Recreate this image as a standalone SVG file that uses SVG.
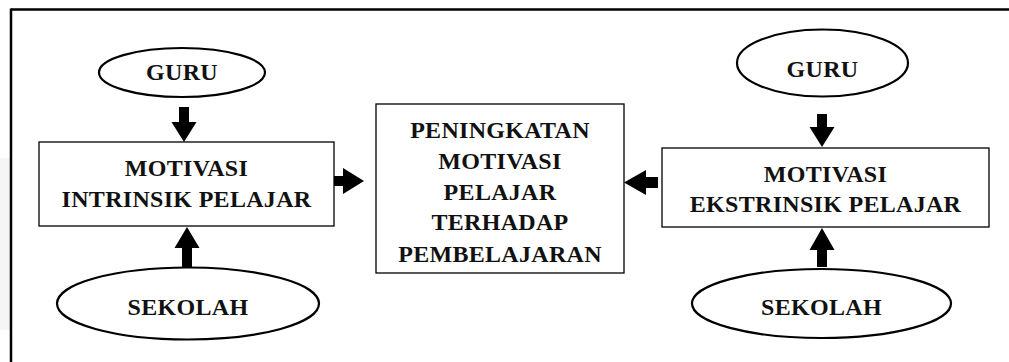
<svg xmlns="http://www.w3.org/2000/svg" width="1009" height="362" viewBox="0 0 1009 362">
<style>
.shape{fill:#fff;stroke:#000;stroke-width:1.3}
.oval{fill:#fff;stroke:#000;stroke-width:2.2}
.t{font-family:"Liberation Serif","Times New Roman",serif;font-weight:bold;font-size:24px;letter-spacing:0.3px;fill:#111;text-anchor:middle}
.arr{fill:#000}
</style>
<rect x="0" y="0" width="1009" height="362" fill="#fff"/>
<rect x="0" y="158" width="11" height="172" fill="#f5f5f5"/>
<g id="frame">
<line x1="11" y1="9.5" x2="1009" y2="9.5" stroke="#000" stroke-width="2.5"/>
<line x1="11" y1="8.5" x2="11" y2="362" stroke="#000" stroke-width="2.5"/>
</g>
<g id="guru-left"><ellipse class="oval" cx="182" cy="72.5" rx="83" ry="24.5"/><text class="t" x="182" y="80">GURU</text></g>
<g id="intrinsik"><rect class="shape" x="39" y="142" width="295" height="84"/><text class="t" x="186.5" y="176">MOTIVASI</text><text class="t" x="186.5" y="207">INTRINSIK PELAJAR</text></g>
<g id="sekolah-left"><ellipse class="oval" cx="188" cy="303.5" rx="131" ry="36" /><text class="t" x="188" y="315">SEKOLAH</text></g>
<g id="peningkatan"><rect class="shape" x="376" y="104" width="248" height="169"/>
<text class="t" x="500" y="138">PENINGKATAN</text><text class="t" x="500" y="169">MOTIVASI</text><text class="t" x="500" y="200">PELAJAR</text><text class="t" x="500" y="230">TERHADAP</text><text class="t" x="500" y="262">PEMBELAJARAN</text></g>
<g id="guru-right"><ellipse class="oval" cx="822.5" cy="63" rx="85.5" ry="33.5"/><text class="t" x="822.5" y="77">GURU</text></g>
<g id="ekstrinsik"><rect class="shape" x="662" y="148" width="327" height="79"/><text class="t" x="825.5" y="182">MOTIVASI</text><text class="t" x="825.5" y="212">EKSTRINSIK PELAJAR</text></g>
<g id="sekolah-right"><ellipse class="oval" cx="821.5" cy="303.5" rx="129.5" ry="34.5"/><text class="t" x="821.5" y="315">SEKOLAH</text></g>
<g id="connectors" class="arr">
<polygon points="179,107 189,107 189,122 196.5,122 184,142 171.5,122 179,122"/>
<polygon points="182,268 192,268 192,248 199.5,248 187,227 174.5,248 182,248"/>
<polygon points="334,176 343,176 343,168 364,181 343,194 343,186 334,186"/>
<polygon points="658,177 646,177 646,170 624,182.5 646,195 646,188 658,188"/>
<polygon points="817,114 827,114 827,127 834.5,127 822,147 809.5,127 817,127"/>
<polygon points="817,267 827,267 827,250 834.5,250 822,228 809.5,250 817,250"/>
</g>
</svg>
